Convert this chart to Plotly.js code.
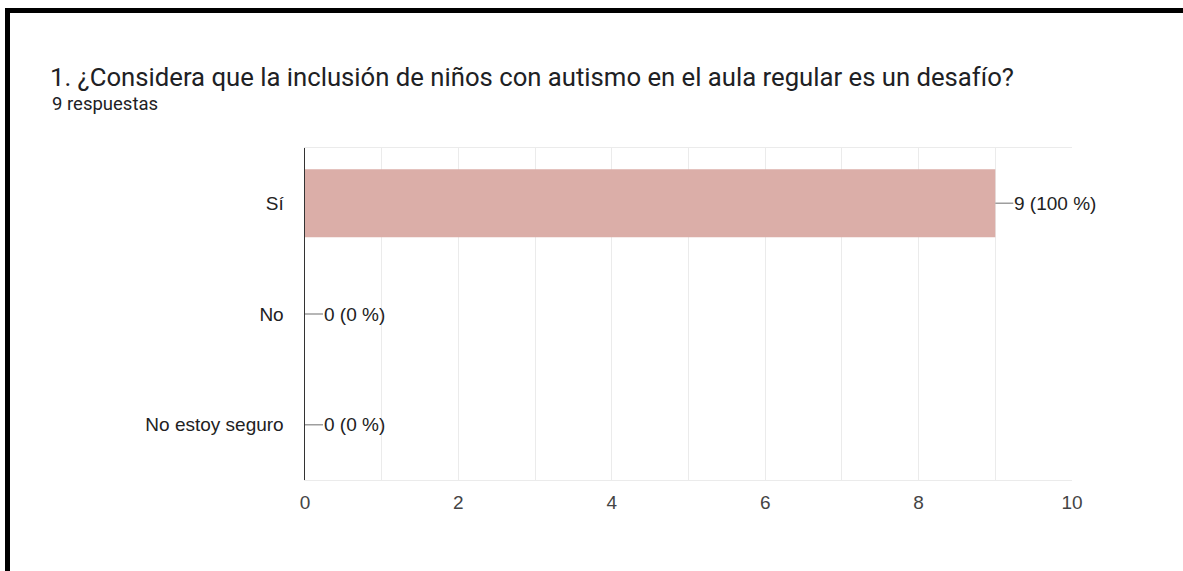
<!DOCTYPE html>
<html>
<head>
<meta charset="utf-8">
<script src="https://cdn.plot.ly/plotly-3.0.1.min.js"></script>
<style>
  html, body { margin: 0; padding: 0; background: #fff; }
  #wrap { position: relative; width: 1183px; height: 571px; overflow: hidden; }
  #chart { position: absolute; left: 0; top: 0; width: 1183px; height: 571px; }
  #frame { position: absolute; left: 5px; top: 8px; width: 1178px; height: 563px;
           border-top: 5px solid #000; border-left: 5px solid #000; box-sizing: border-box; pointer-events: none; }
</style>
</head>
<body>
<div id="wrap">
  <div id="chart"></div>
  <div id="frame"></div>
</div>
<script>
const titleText = "1. ¿Considera que la inclusión de niños con autismo en el aula regular es un desafío?";
const subtitleText = "9 respuestas";
const categories = ["Sí", "No", "No estoy seguro"];
const counts = [9, 0, 0];
const xTicks = [0, 2, 4, 6, 8, 10];

const total = counts.reduce((a, b) => a + b, 0);
const labels = counts.map(v => v + " (" + Math.round(v / total * 100) + " %)");

const trace = {
  type: "bar",
  orientation: "h",
  x: counts,
  y: categories,
  marker: { color: "#dbaea8" },
  hoverinfo: "skip"
};

const annotations = categories.map((c, i) => ({
  x: counts[i], y: c, xref: "x", yref: "y",
  text: labels[i],
  showarrow: true, arrowhead: 0, arrowwidth: 1.5, arrowcolor: "#9e9e9e",
  ax: 18, ay: 0, standoff: 0, xanchor: "left", borderpad: 0,
  font: { family: "Liberation Sans, Arial, sans-serif", size: 19, color: "#222" }
}));

annotations.push({
  xref: "paper", yref: "paper",
  x: (50 - 305) / 767, y: (480 - 104) / 332,
  xanchor: "left", yanchor: "middle",
  text: subtitleText, showarrow: false,
  font: { family: "Roboto, sans-serif", size: 18.5, color: "#202124" }
});

const layout = {
  width: 1183, height: 571,
  margin: { l: 305, r: 111, t: 148, b: 91 },
  paper_bgcolor: "#fff", plot_bgcolor: "#fff",
  showlegend: false,
  bargap: 0.386,
  title: {
    text: titleText,
    xref: "container", yref: "container",
    x: 50 / 1183, xanchor: "left",
    y: 1 - 77 / 571, yanchor: "middle",
    font: { family: "Roboto, sans-serif", size: 25.7, color: "#202124" }
  },
  xaxis: {
    range: [0, 10],
    tickvals: xTicks,
    ticktext: xTicks.map(String),
    showgrid: true, gridcolor: "#ebebeb", gridwidth: 1,
    minor: { dtick: 1, showgrid: true, gridcolor: "#ebebeb", gridwidth: 1 },
    zeroline: false,
    showline: true, mirror: true, linecolor: "#ebebeb", linewidth: 1,
    ticks: "", ticklabelstandoff: 5,
    tickfont: { family: "Liberation Sans, Arial, sans-serif", size: 19, color: "#444" },
    fixedrange: true
  },
  yaxis: {
    type: "category",
    autorange: "reversed",
    showgrid: false, zeroline: false,
    showline: true, linecolor: "#333", linewidth: 1.5,
    ticks: "", ticklabelstandoff: 16,
    tickfont: { family: "Liberation Sans, Arial, sans-serif", size: 19, color: "#222" },
    fixedrange: true
  },
  annotations: annotations
};

Plotly.newPlot("chart", [trace], layout, { displayModeBar: false, staticPlot: true });
</script>
</body>
</html>
